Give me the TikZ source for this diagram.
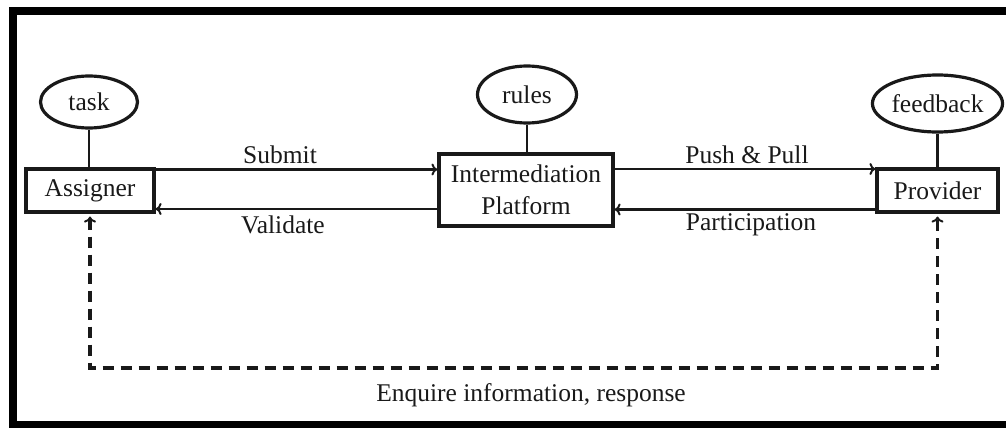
\documentclass[tikz,border=0pt]{standalone}
\usepackage{fontspec}
\setmainfont{Liberation Serif}
\usetikzlibrary{arrows.meta,shapes.geometric}
\begin{document}
\begin{tikzpicture}[x=1pt,y=-1pt,
  every node/.style={font=\fontsize{25.5}{32}\selectfont, text=black!90},
  boxnode/.style={draw=black!90, line width=3.2pt, inner sep=0pt, align=center},
  ellnode/.style={draw=black!90, ellipse, line width=3.2pt, inner sep=0pt},
  link/.style={draw=black!90, line width=2.8pt},
  arr/.style={draw=black!90, line width=2.2pt, -{To[length=6pt,width=12pt,line width=2pt]}},
  darr/.style={draw=black!90, line width=3.2pt, dash pattern=on 11pt off 7pt, {To[length=6pt,width=12pt,line width=2pt]}-{To[length=6pt,width=12pt,line width=2pt]}},
  lbl/.style={inner sep=0pt}]
\useasboundingbox (0,0) rectangle (1006,428);
% frame
\fill[black] (9,7) rectangle (1006,15);
\fill[black] (9,7) rectangle (17,428);
\fill[black] (9,421) rectangle (1006,428);
% nodes
\node[boxnode, minimum width=128pt, minimum height=43pt] (as) at (90,190.5) {Assigner};
\node[boxnode, minimum width=174pt, minimum height=72pt] (ip) at (526,190) {Intermediation\\Platform};
\node[boxnode, minimum width=121pt, minimum height=43pt] (pr) at (937.5,190.5) {Provider};
\node[ellnode, minimum width=97pt, minimum height=52pt] (task) at (89,102) {task};
\node[ellnode, minimum width=99pt, minimum height=57pt] (rules) at (527,94.5) {rules};
\node[ellnode, minimum width=107pt, minimum height=57pt] (fb) at (937.5,103.5) {feedback};
% links
\draw[link] (task.south) -- (task.south |- as.north);
\draw[link] (rules.south) -- (rules.south |- ip.north);
\draw[link] (fb.south) -- (fb.south |- pr.north);
% arrows
\draw[arr] ([yshift=21pt]as.east) -- ([yshift=21pt]as.east -| ip.west);
\draw[arr] ([yshift=-19pt]ip.west) -- ([yshift=-19pt]ip.west -| as.east);
\draw[arr] ([yshift=21pt]ip.east) -- ([yshift=21pt]ip.east -| pr.west);
\draw[arr] ([yshift=-19pt]pr.west) -- ([yshift=-19pt]pr.west -| ip.east);
\coordinate (bl) at (as.south |- 0,368);
\coordinate (br) at (pr.south |- 0,368);
\draw[darr] ([yshift=-3pt]as.south) -- (bl) -- (br) -- ([yshift=-3pt]pr.south);
% labels
\node[lbl] (l1) at (280,155) {Submit};
\node[lbl] (l2) at (283,225) {Validate};
\node[lbl] (l3) at (747,155) {Push \& Pull};
\node[lbl] (l4) at (751,225) {Participation};
\node[lbl] (l5) at (531,395) {Enquire information, response};
\end{tikzpicture}
\end{document}
